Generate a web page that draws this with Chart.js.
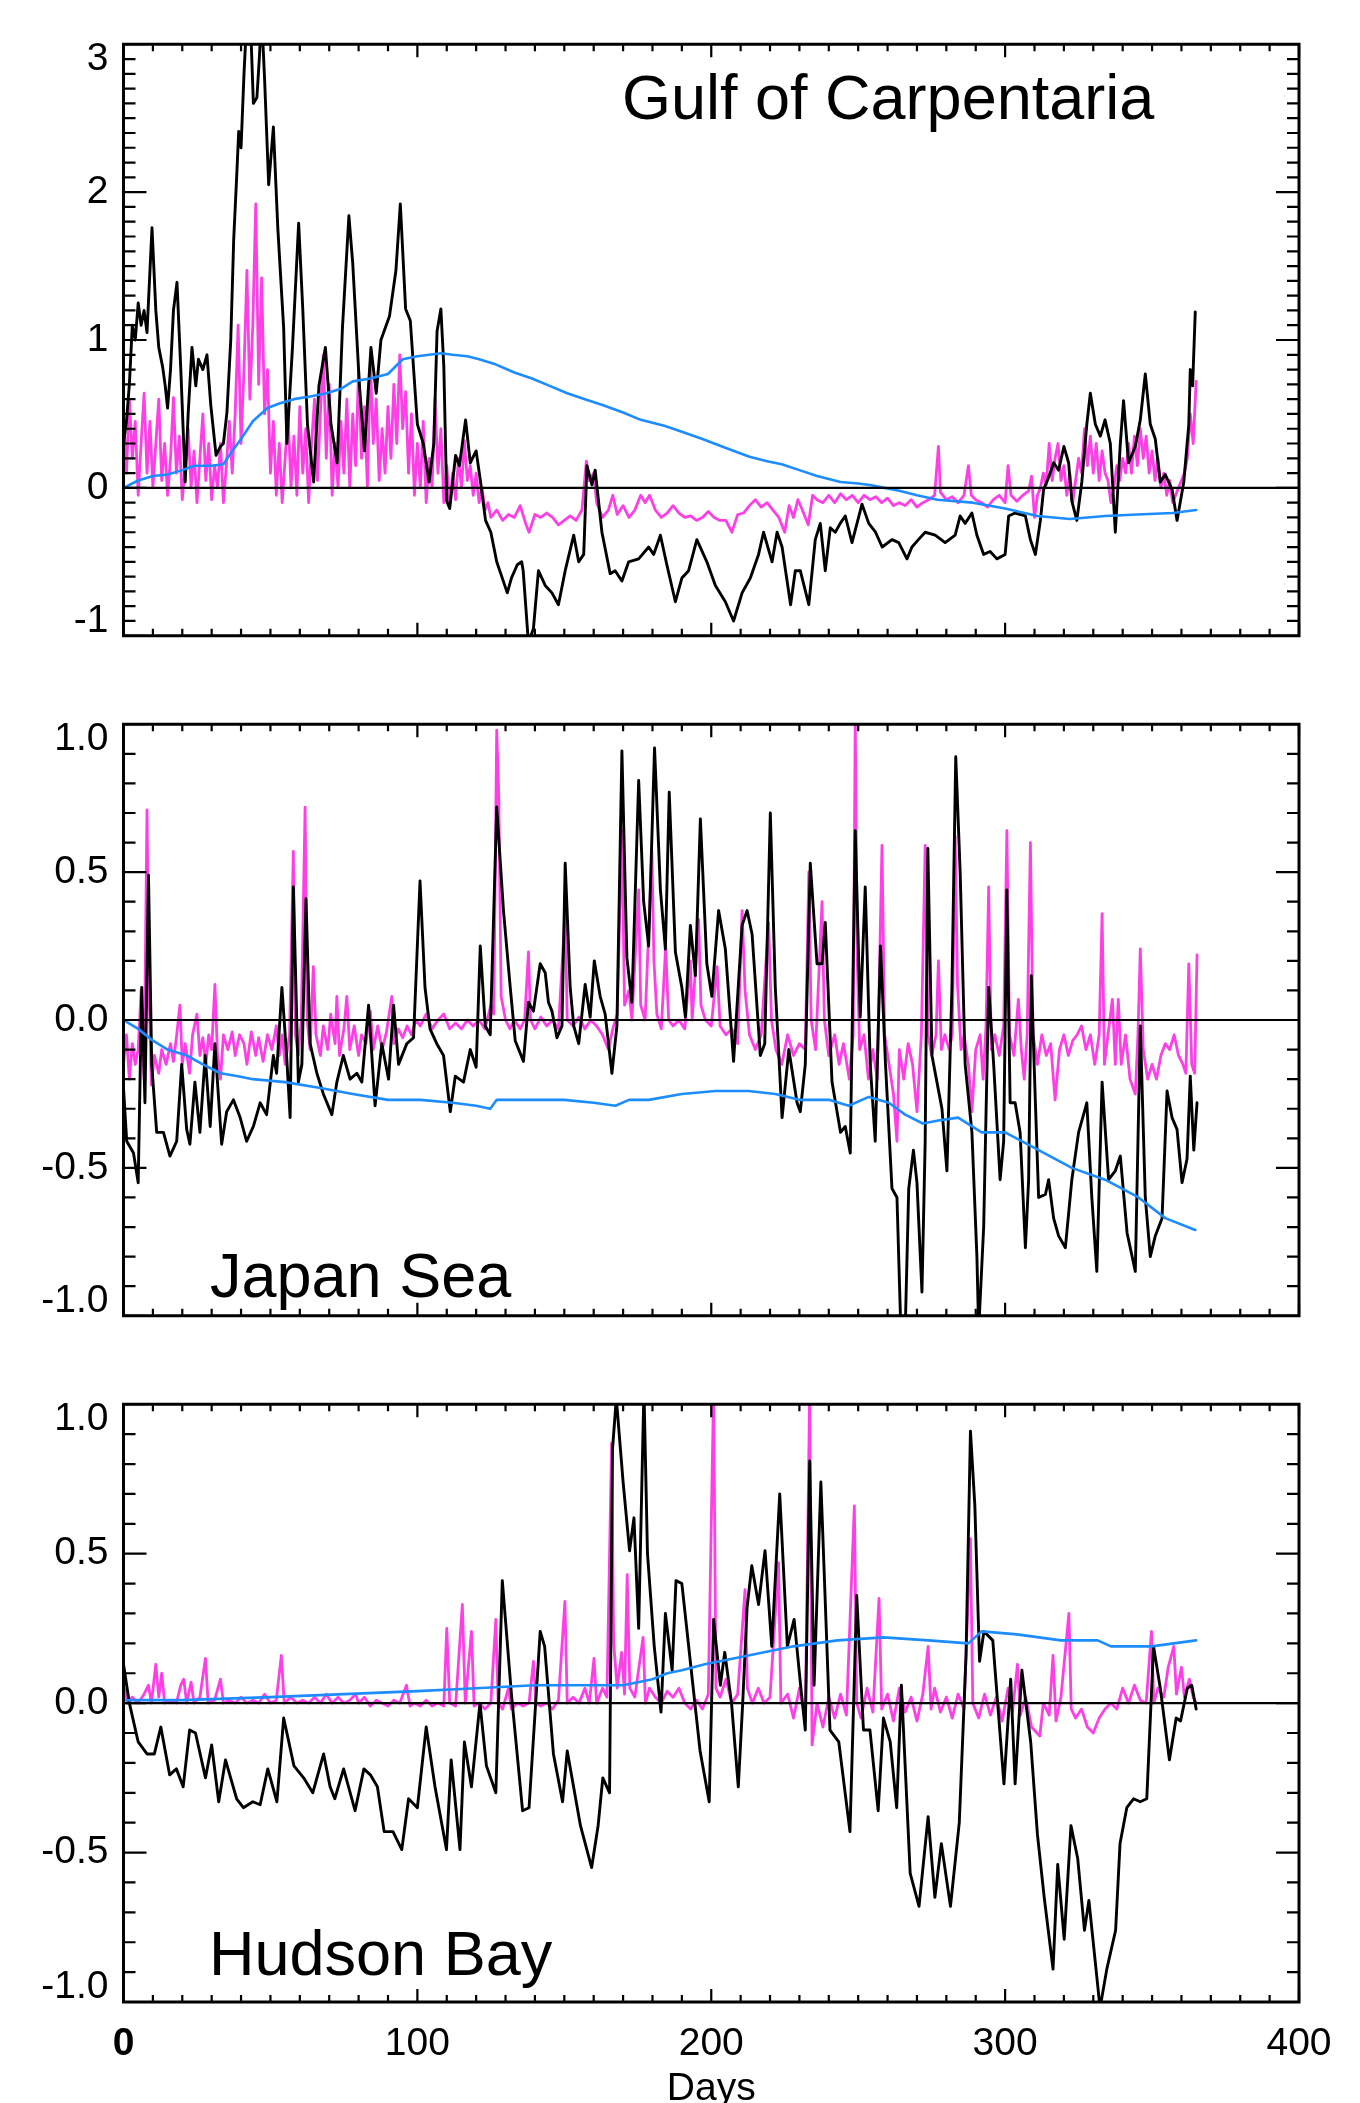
<!DOCTYPE html>
<html>
<head>
<meta charset="utf-8">
<script src="https://cdn.jsdelivr.net/npm/chart.js@4.4.0/dist/chart.umd.min.js"></script>
<style>
html,body{margin:0;padding:0;background:#fff;overflow:hidden;}
.panel{position:absolute;left:0;width:1360px;}
</style>
</head>
<body>
<div class="panel" style="top:0px;height:680px"><canvas id="gulf" width="1360" height="680"></canvas></div>
<div class="panel" style="top:680px;height:680px"><canvas id="japan" width="1360" height="680"></canvas></div>
<div class="panel" style="top:1360px;height:743px"><canvas id="hudson" width="1360" height="743"></canvas></div>
<script>
// DATA  ([day, value])

const dayTicks = [0, 100, 200, 300, 400];
const gulfYTicks = [-1, 0, 1, 2, 3];
const seaYTicks = [-1, -0.5, 0, 0.5, 1];
const panelNames = ["Gulf of Carpentaria", "Japan Sea", "Hudson Bay"];

const gulfBlack = [[0,0.3],[1,0.45],[2,0.7],[3,1.1],[4,1.0],[5,1.25],[6,1.1],[7,1.2],[8,1.05],[9.7,1.76],[11,1.2],[12,0.95],[13.3,0.82],[14.2,0.69],[15,0.54],[16,0.8],[17,1.2],[18.2,1.39],[19.5,0.8],[21,0.04],[22,0.5],[23.3,0.95],[24.6,0.69],[25.5,0.87],[27,0.8],[28.4,0.9],[29.7,0.56],[31.5,0.22],[33,0.28],[34,0.3],[35.2,0.51],[36.5,1.0],[37.5,1.68],[38.5,2.1],[39.2,2.41],[40,2.3],[41,2.8],[42,3.2],[43.3,3.1],[44.2,2.6],[45.4,2.64],[46.2,2.9],[47,3.2],[48,2.77],[49.4,2.05],[51,2.44],[52.5,1.76],[54.5,1.08],[55.6,0.3],[57.5,0.95],[59.6,1.79],[61,1.21],[62.6,0.43],[64.7,0.04],[66.5,0.69],[68.7,0.95],[70.6,0.43],[72.7,0.17],[74.5,1.08],[76.7,1.84],[78,1.52],[80.3,0.69],[82,0.25],[84.2,0.95],[86,0.64],[87.6,1.0],[90.5,1.16],[92.7,1.47],[94.2,1.92],[96,1.21],[97.6,1.13],[100,0.43],[102,0.3],[104,0.04],[105.6,0.3],[106.7,1.06],[108,1.21],[109,0.82],[110,-0.09],[111,-0.14],[113,0.22],[114.3,0.15],[116.4,0.46],[118,0.17],[120,0.25],[121.5,0.04],[123.2,-0.22],[125,-0.3],[127,-0.5],[130.6,-0.71],[132,-0.61],[134,-0.52],[135.5,-0.5],[136,-0.56],[137.8,-1.05],[139.5,-0.95],[141.2,-0.56],[143.5,-0.66],[145.8,-0.71],[148,-0.79],[150.3,-0.56],[153.2,-0.32],[154.9,-0.5],[156.6,-0.45],[157.7,0.15],[159.4,0.02],[160.5,0.12],[162.8,-0.3],[165.6,-0.58],[167.3,-0.56],[169.6,-0.63],[171.9,-0.5],[175.3,-0.48],[178.7,-0.4],[180.4,-0.45],[182.7,-0.32],[185,-0.53],[187.8,-0.77],[190,-0.61],[192.3,-0.56],[195.1,-0.35],[198.5,-0.5],[201.4,-0.66],[204.8,-0.77],[207.6,-0.9],[210.5,-0.71],[213.3,-0.61],[216.1,-0.45],[217.8,-0.3],[220.7,-0.5],[222.4,-0.3],[224.1,-0.4],[227,-0.79],[228.6,-0.56],[230.3,-0.56],[233.2,-0.79],[235.4,-0.35],[237.1,-0.24],[238.8,-0.56],[240.5,-0.27],[242.2,-0.3],[243.9,-0.24],[245.6,-0.19],[247.9,-0.37],[251.3,-0.11],[253.6,-0.24],[255.9,-0.3],[258.2,-0.4],[261.5,-0.35],[263.8,-0.37],[266.6,-0.48],[268.3,-0.4],[270.5,-0.35],[272.8,-0.3],[276.2,-0.32],[279.6,-0.37],[283,-0.32],[284.7,-0.19],[286.4,-0.24],[288.7,-0.17],[290.4,-0.32],[292.7,-0.45],[294.9,-0.43],[297.2,-0.48],[300,-0.45],[301.2,-0.19],[303.4,-0.17],[306.9,-0.19],[308.6,-0.35],[310.3,-0.45],[312,-0.22],[313.1,-0.01],[314.8,0.07],[316.5,0.17],[318.2,0.12],[320,0.28],[321.6,0.17],[322.7,-0.09],[324.4,-0.22],[326.1,0.04],[327.8,0.43],[329,0.64],[330.7,0.43],[332.4,0.35],[334,0.46],[335.8,0.3],[337.5,-0.3],[339.2,0.3],[340.3,0.59],[342,0.17],[344.3,0.28],[346,0.46],[347.7,0.77],[349.4,0.43],[351.1,0.33],[352.8,0.04],[354.5,0.09],[356.8,-0.01],[358.5,-0.22],[360.8,0.04],[362.5,0.43],[363,0.8],[363.8,0.69],[364.7,1.19]];

const gulfMagenta = [[0,0.5],[1,0.1],[2,0.6],[3,0.2],[4,0.45],[5,-0.05],[6,0.3],[7,0.64],[8,0.1],[9,0.45],[10,0.0],[11,0.3],[12,0.6],[13,0.05],[14,0.3],[15,-0.05],[16,0.2],[17,0.61],[18,0.1],[19,0.35],[20,-0.08],[21,0.15],[22,0.4],[23,0.0],[24,0.25],[25,-0.1],[26,0.2],[27,0.5],[28,0.05],[29,0.3],[30,-0.08],[31,0.15],[32,0.0],[33,0.3],[34,-0.1],[35,0.15],[36,0.45],[37,0.1],[38,0.5],[39,1.1],[40,0.3],[41,0.8],[42,1.47],[43,0.6],[44,1.1],[45,1.92],[46,0.7],[47,1.42],[48,0.5],[49,0.8],[50,0.1],[51,0.45],[52,-0.05],[53,0.3],[54,-0.1],[55,0.2],[56,0.5],[57,0.0],[58,0.35],[59,-0.05],[60,0.55],[61,0.1],[62,0.4],[63,-0.1],[64,0.3],[65,0.6],[66,0.05],[67,0.5],[68,0.9],[69,0.2],[70,0.7],[71,-0.05],[72,0.3],[73,0.0],[74,0.45],[75,0.1],[76,0.6],[77,0.0],[78,0.5],[79,0.15],[80,0.8],[81,0.2],[82,0.55],[83,0.0],[84,0.85],[85,0.3],[86,0.6],[87,0.05],[88,0.4],[89,0.1],[90,0.55],[91,0.2],[92,0.7],[93,0.3],[94,0.9],[95,0.4],[96,0.65],[97,0.1],[98,0.5],[99,-0.05],[100,0.3],[101,0.0],[102,0.45],[103,-0.1],[104,0.2],[105,0.0],[106,0.6],[107,0.1],[108,0.4],[109,-0.1],[110,0.15],[111,-0.12],[112,0.1],[113,-0.08],[114,0.2],[115,0.0],[116,0.32],[117,0.05],[118,0.15],[119,-0.05],[120,0.1],[121,-0.1],[122,0.0],[123,-0.15],[124,-0.1],[125,-0.2],[127,-0.15],[129,-0.22],[131,-0.18],[133,-0.2],[135,-0.12],[137,-0.25],[138,-0.3],[140,-0.18],[142,-0.2],[144,-0.17],[146,-0.2],[148,-0.25],[150,-0.22],[152,-0.19],[154,-0.22],[156,-0.15],[157.5,0.18],[158.5,0.05],[160,0.1],[161,-0.1],[163,-0.2],[165,-0.15],[166.5,-0.05],[168,-0.18],[170,-0.12],[172,-0.2],[174,-0.15],[176,-0.05],[177.5,-0.1],[179,-0.05],[181,-0.15],[183,-0.2],[185,-0.17],[187,-0.12],[189,-0.17],[191,-0.2],[193,-0.19],[195,-0.22],[197,-0.2],[199,-0.16],[201,-0.2],[203,-0.22],[205,-0.22],[207,-0.3],[209,-0.18],[211,-0.17],[213,-0.12],[215,-0.08],[217,-0.13],[219,-0.1],[221,-0.15],[223,-0.2],[225,-0.3],[226.5,-0.12],[228,-0.2],[229.5,-0.08],[231,-0.15],[233,-0.25],[234.5,-0.05],[236,-0.08],[238,-0.1],[240,-0.05],[242,-0.1],[244,-0.04],[246,-0.08],[248,-0.05],[250,-0.1],[252,-0.05],[254,-0.08],[256,-0.06],[258,-0.1],[260,-0.07],[262,-0.12],[264,-0.1],[266,-0.12],[268,-0.08],[270,-0.13],[272,-0.1],[274,-0.08],[276,-0.05],[277.3,0.28],[278,-0.03],[280,-0.08],[282,-0.06],[284,-0.1],[286,-0.05],[287.5,0.15],[288.5,-0.05],[290,-0.08],[292,-0.1],[294,-0.13],[296,-0.08],[298,-0.05],[300,-0.1],[301,0.15],[302,-0.05],[304,-0.09],[306,-0.05],[308,-0.02],[309,0.08],[310,-0.2],[311,-0.05],[312,0.0],[313,0.1],[314,0.02],[315,0.3],[316,0.05],[317,0.2],[318,0.3],[319,0.05],[320,0.15],[321,-0.05],[322,0.1],[323,-0.1],[324,0.05],[325,0.2],[326,0.1],[327,0.4],[328,0.15],[329,0.35],[330,0.1],[331,0.3],[332,0.05],[333,0.25],[334,0.1],[335,0.05],[336,-0.1],[337,0.0],[338,0.15],[339,0.05],[340,0.2],[341,0.1],[342,0.3],[343,0.1],[344,0.35],[345,0.15],[346,0.4],[347,0.2],[348,0.35],[349,0.1],[350,0.25],[351,0.05],[352,0.2],[353,0.0],[354,0.1],[355,-0.05],[356,0.05],[357,-0.1],[358,-0.05],[359,0.0],[360,0.05],[361,0.1],[362,0.2],[363,0.5],[364,0.3],[365,0.72]];

const gulfBlue = [[0,0.0],[5,0.05],[10,0.08],[15,0.09],[20,0.12],[24,0.15],[30,0.15],[34,0.16],[37,0.25],[40,0.33],[44,0.45],[49,0.54],[53,0.57],[58,0.6],[64,0.62],[69,0.64],[74,0.67],[78,0.72],[84,0.74],[90,0.77],[95,0.87],[100,0.89],[104,0.9],[108,0.91],[112,0.9],[117,0.89],[121,0.87],[126,0.84],[133,0.78],[139,0.74],[145,0.69],[151,0.64],[157,0.6],[163,0.56],[170,0.51],[176,0.46],[184,0.42],[190,0.38],[197,0.33],[205,0.27],[213,0.21],[219,0.18],[224,0.16],[230,0.12],[236,0.08],[244,0.04],[250,0.03],[254,0.02],[259,0.0],[264,-0.02],[270,-0.05],[277,-0.08],[289,-0.1],[300,-0.14],[311,-0.19],[322,-0.21],[334,-0.19],[345,-0.18],[357,-0.17],[365,-0.15]];

const japanBlack = [[0,-0.23],[1.1,-0.41],[3.4,-0.45],[5,-0.55],[6.2,0.11],[7.3,-0.28],[8.5,0.49],[9.6,-0.15],[11.3,-0.38],[13.6,-0.38],[15.8,-0.46],[18.1,-0.41],[19.8,-0.15],[21.5,-0.37],[22.6,-0.42],[24.3,-0.21],[26,-0.38],[27.8,-0.12],[29.5,-0.36],[31.1,-0.08],[33.4,-0.42],[35.1,-0.31],[37.4,-0.27],[39.7,-0.33],[41.9,-0.41],[44.2,-0.36],[46.5,-0.28],[48.7,-0.32],[51,-0.12],[52.1,-0.18],[53.9,0.11],[55.5,-0.12],[56.7,-0.33],[57.8,0.45],[59.5,-0.21],[60.7,-0.15],[62.1,0.41],[63.5,-0.08],[65.8,-0.18],[68,-0.25],[70.9,-0.32],[72.6,-0.21],[74.8,-0.12],[77.1,-0.2],[79.4,-0.18],[81.1,-0.21],[83.4,0.05],[85.6,-0.29],[87.9,-0.08],[90.2,-0.2],[91.9,0.05],[93.6,-0.15],[96.4,-0.08],[98.7,-0.06],[100.9,0.47],[102.6,0.11],[104.3,-0.03],[106.6,-0.08],[108.9,-0.12],[111.2,-0.31],[112.9,-0.19],[115.7,-0.21],[118,-0.1],[120,-0.16],[121.4,0.25],[123.1,-0.02],[124.8,-0.05],[127,0.72],[129.3,0.37],[131.6,0.11],[133.3,-0.07],[136.1,-0.14],[137.8,0.06],[139.5,0.03],[141.8,0.19],[143.5,0.16],[144.6,0.06],[145.8,0.03],[147.5,-0.06],[149.2,-0.02],[150.3,0.53],[152,0.11],[153.2,-0.02],[154.9,-0.08],[157.1,0.12],[158.8,0.01],[160.2,0.2],[162.2,0.08],[163.9,0.02],[166.2,-0.18],[167.9,-0.02],[169.6,0.91],[171.3,0.21],[173,0.06],[175.3,0.81],[177,0.4],[178.7,0.25],[180.7,0.92],[182.7,0.44],[184.4,0.24],[185.7,0.77],[187.8,0.23],[190,0.11],[191.2,0.01],[192.9,0.32],[194.6,0.15],[196.3,0.68],[198.5,0.19],[200.2,0.08],[202.5,0.37],[204.8,0.24],[207.6,-0.14],[210.5,0.32],[212.2,0.37],[213.9,0.29],[216.7,-0.12],[218.2,-0.08],[220.1,0.7],[221.8,0.11],[224.1,-0.33],[226.4,-0.1],[229.2,-0.28],[230.3,-0.31],[232,-0.15],[233.7,0.53],[236,0.19],[237.7,0.19],[238.8,0.33],[241.1,-0.21],[244,-0.38],[245.6,-0.36],[247.3,-0.45],[249,0.64],[250.7,0.01],[252.4,0.45],[254.1,-0.15],[255.8,-0.41],[257.6,0.25],[259.3,-0.15],[261.5,-0.57],[263.2,-0.6],[264.4,-1.01],[266,-1.05],[267.2,-0.57],[268.8,-0.44],[270,-0.55],[271.7,-0.92],[272.8,-0.41],[273.7,0.58],[275.1,-0.12],[276.8,-0.21],[278.5,-0.3],[280.2,-0.51],[281.9,0.11],[283.2,0.89],[284.7,0.5],[286.4,-0.15],[288.7,-0.38],[290.4,-0.8],[291,-1.05],[292.7,-0.7],[294.4,0.11],[296.1,-0.15],[298.3,-0.54],[299.5,-0.41],[300.6,0.44],[301.7,-0.28],[303.4,-0.28],[305.1,-0.38],[306.9,-0.77],[308,-0.54],[308.9,0.15],[310.3,-0.28],[311.4,-0.6],[313.7,-0.59],[314.8,-0.54],[316.5,-0.67],[318.2,-0.73],[320.5,-0.77],[322.7,-0.54],[325,-0.38],[327.8,-0.28],[329.5,-0.6],[331.2,-0.85],[333,-0.21],[335.2,-0.54],[337.5,-0.51],[339.2,-0.46],[341.5,-0.72],[344.3,-0.85],[346,-0.02],[347.7,-0.6],[349.4,-0.8],[351.1,-0.73],[353.4,-0.67],[355.1,-0.24],[356.8,-0.33],[358.5,-0.37],[360.2,-0.55],[361.9,-0.47],[363,-0.19],[364.2,-0.44],[365.3,-0.28]];

const japanMagenta = [[0,-0.15],[1,-0.05],[2,-0.2],[3,-0.08],[4,-0.15],[5,-0.1],[6,0.1],[7,-0.2],[8,0.71],[8.7,0.1],[9.5,-0.22],[10.5,-0.12],[12,-0.18],[13,-0.1],[14.5,-0.15],[16,-0.08],[17,-0.14],[18,-0.06],[19.2,0.05],[20,-0.15],[21,-0.08],[22.5,-0.18],[23.5,-0.05],[25,0.02],[26,-0.12],[27,-0.06],[28,-0.15],[29,-0.05],[30,-0.1],[31.1,0.12],[32,-0.12],[33,-0.2],[34,-0.05],[35.5,-0.1],[37,-0.04],[38,-0.12],[39.5,-0.05],[41,-0.08],[42,-0.15],[43.5,-0.04],[45,-0.12],[46,-0.06],[47.5,-0.14],[49,-0.05],[50.5,-0.1],[52,-0.02],[53,-0.12],[54,-0.05],[55,-0.15],[56.5,-0.05],[57.8,0.57],[58.5,-0.05],[59.5,-0.12],[60.5,0.0],[61.8,0.72],[62.5,0.0],[63.5,-0.1],[64.6,0.18],[65.5,-0.05],[67,-0.12],[68,-0.02],[69.5,-0.1],[70.5,0.02],[72,-0.08],[72.6,0.08],[73.5,-0.12],[75,-0.03],[76,0.08],[77,-0.1],[78.5,-0.02],[80,-0.12],[81,-0.05],[82.5,-0.08],[84,0.03],[85,-0.1],[86.5,-0.02],[88,-0.1],[89.5,-0.04],[91.3,0.08],[92,-0.08],[93.5,-0.03],[95,-0.06],[96.5,-0.02],[98,-0.05],[99.5,0.0],[101,-0.02],[103,0.02],[105,-0.03],[107,0.0],[109,0.02],[111,-0.03],[113,-0.01],[115,-0.03],[117,0.0],[119,-0.02],[121,0.0],[123,-0.03],[125,0.05],[126,0.02],[127,0.98],[127.7,0.76],[128.5,0.08],[130,0.0],[131.5,-0.03],[133,0.0],[135,-0.03],[136.5,0.0],[137.8,0.23],[138.5,0.0],[140,-0.03],[142,0.01],[144,-0.02],[146,0.0],[148,-0.03],[150.3,0.37],[151,0.0],[153,-0.02],[155,0.01],[157,-0.03],[159,0.0],[161,-0.02],[163,-0.05],[165,-0.1],[166.5,-0.03],[168,0.02],[169.6,0.64],[170.5,0.05],[172,0.1],[173,0.0],[175.3,0.44],[176,0.05],[177.5,0.0],[179.8,0.57],[180.5,0.2],[181.5,0.02],[183,-0.03],[184.5,0.25],[185.5,0.0],[187,-0.02],[189,0.0],[191,-0.03],[192.9,0.2],[193.5,0.0],[195.7,0.34],[196.5,0.05],[198,0.0],[200,-0.02],[202,0.18],[203,-0.02],[205,-0.05],[207,-0.03],[209,-0.08],[210.5,0.37],[211.5,0.1],[213,-0.05],[215,-0.1],[217,-0.05],[219.5,0.33],[220.5,0.0],[222,-0.1],[224,-0.15],[226,-0.05],[228,-0.12],[230,-0.08],[232,-0.1],[233.2,0.5],[234,0.0],[235.5,-0.1],[237.7,0.4],[238.5,0.0],[240,-0.12],[242,-0.05],[243.5,-0.15],[245,-0.08],[247,-0.2],[248.3,-0.05],[249,1.02],[249.7,0.2],[250.5,-0.1],[252,-0.05],[253.5,-0.2],[255,-0.1],[256.5,-0.2],[258.1,0.59],[259,-0.05],[260.5,-0.15],[262,-0.25],[263.2,-0.41],[264,-0.1],[265.5,-0.2],[267,-0.08],[268.5,-0.15],[270,-0.31],[271.5,-0.05],[272.8,0.59],[273.8,-0.05],[275,-0.12],[276.5,-0.05],[277.3,0.2],[278.3,-0.1],[279.5,-0.05],[281,-0.1],[282,-0.05],[283,0.62],[283.8,0.12],[285,-0.1],[286,-0.05],[287.5,-0.15],[288.7,-0.31],[290,-0.1],[291.5,-0.05],[292.5,-0.2],[293.5,-0.02],[294.4,0.45],[295.3,-0.1],[296.5,-0.05],[298,-0.12],[299.5,-0.02],[300.6,0.64],[301.5,-0.05],[303,-0.12],[304.5,0.07],[305.5,-0.1],[306.5,-0.2],[307.5,-0.05],[308.6,0.6],[309.5,-0.05],[311,-0.15],[312.5,-0.05],[314,-0.12],[315.5,-0.08],[317,-0.27],[318.5,-0.1],[320,-0.05],[321.5,-0.12],[323,-0.07],[324.5,-0.05],[326,-0.02],[327.5,-0.1],[329,-0.05],[330.5,-0.15],[332,-0.05],[333,0.36],[333.8,-0.15],[335,-0.05],[336.5,0.07],[337.5,-0.15],[338.5,0.07],[339.5,-0.15],[341,-0.05],[342.5,-0.2],[344.3,-0.25],[345.2,-0.05],[346,0.24],[347,-0.1],[348.5,-0.2],[350,-0.15],[351.5,-0.2],[353,-0.12],[354.5,-0.08],[356,-0.1],[357.5,-0.05],[359,-0.12],[360.5,-0.15],[361.5,-0.18],[362.5,0.19],[363.5,-0.15],[364.5,-0.18],[365.3,0.22]];

const japanBlue = [[0,0.0],[5,-0.03],[10,-0.07],[15,-0.1],[21.5,-0.12],[27,-0.15],[33,-0.18],[39,-0.19],[44,-0.2],[55,-0.21],[67,-0.23],[78,-0.25],[90,-0.27],[101,-0.27],[112,-0.28],[120,-0.29],[124.8,-0.3],[127,-0.27],[135,-0.27],[150,-0.27],[160,-0.28],[167.4,-0.29],[172,-0.27],[178.7,-0.27],[190,-0.25],[201.4,-0.24],[212.7,-0.24],[221.8,-0.25],[230,-0.27],[240,-0.27],[246.8,-0.29],[253.6,-0.26],[260.4,-0.28],[266,-0.32],[272,-0.35],[277.3,-0.34],[284,-0.33],[292,-0.38],[300,-0.38],[311.4,-0.44],[322.7,-0.5],[334,-0.54],[345.4,-0.6],[354.5,-0.67],[364.7,-0.71]];

const hudsonBlack = [[0,0.13],[2,0.0],[5,-0.13],[8,-0.17],[10.5,-0.17],[12.7,-0.08],[15.7,-0.24],[18,-0.22],[20.3,-0.28],[22.5,-0.09],[24.5,-0.1],[27.9,-0.25],[30,-0.14],[32.4,-0.33],[34.7,-0.19],[38.5,-0.32],[40.8,-0.35],[44,-0.33],[46.5,-0.34],[49.1,-0.22],[52.2,-0.33],[54.5,-0.05],[58,-0.21],[61.3,-0.25],[64.4,-0.3],[68.1,-0.17],[70.3,-0.28],[71.9,-0.32],[74.9,-0.22],[78.8,-0.36],[81.8,-0.22],[84,-0.24],[86.4,-0.28],[88.7,-0.43],[91.7,-0.43],[94.7,-0.49],[97,-0.32],[100,-0.35],[103,-0.08],[106,-0.28],[109.9,-0.49],[111.5,-0.19],[114.5,-0.49],[116,-0.13],[118.4,-0.28],[121.3,0.0],[123.5,-0.21],[126.7,-0.3],[128.9,0.41],[132,0.03],[135.8,-0.36],[138,-0.35],[141.8,0.24],[143.3,0.19],[146.3,-0.17],[149.4,-0.33],[151,-0.16],[155.5,-0.41],[159.3,-0.55],[161.5,-0.41],[163.1,-0.25],[165.4,-0.3],[166.4,0.85],[167.7,1.02],[170,0.74],[172.2,0.51],[173.7,0.62],[175.3,0.25],[177.1,1.05],[178.3,0.5],[180.6,0.19],[182.9,-0.03],[184.4,0.3],[186.7,0.11],[188,0.41],[190,0.4],[193.2,0.11],[196.2,-0.16],[199.3,-0.33],[200.8,0.28],[203.1,0.06],[204.6,0.17],[206.9,0.0],[209.2,-0.28],[210.7,0.0],[212.2,0.32],[213.8,0.46],[216.1,0.33],[218.3,0.51],[220.6,0.19],[223.3,0.7],[225.9,0.19],[228.2,0.28],[230.5,0.05],[232,-0.09],[233.5,0.81],[235,0.06],[237.3,0.74],[240.4,-0.09],[243.4,-0.13],[247.2,-0.43],[249.5,0.36],[251.8,-0.09],[254,-0.09],[256.8,-0.36],[258.6,-0.05],[260.9,-0.13],[263.1,-0.35],[264.7,0.06],[267.7,-0.57],[270.7,-0.68],[273.8,-0.38],[276.1,-0.65],[278.3,-0.47],[281.4,-0.68],[284.4,-0.4],[286.7,0.16],[288.2,0.91],[289.7,0.66],[291.3,0.14],[292.8,0.24],[295.8,0.21],[299.6,-0.27],[301.9,0.08],[303.4,-0.27],[305.7,0.11],[308.7,-0.13],[311,-0.44],[313.3,-0.65],[316.3,-0.89],[317.9,-0.54],[320.1,-0.79],[322.4,-0.41],[324.7,-0.52],[327,-0.76],[328.5,-0.66],[332.3,-1.02],[334.6,-0.89],[337.6,-0.76],[339.1,-0.47],[341.4,-0.35],[343.7,-0.32],[346,-0.33],[348.2,-0.32],[350.5,0.19],[352.8,0.05],[355.9,-0.19],[358.2,-0.05],[359.7,-0.06],[362,0.05],[363.5,0.06],[365,-0.02]];

const hudsonMagenta = [[0,0.06],[1.5,0.0],[3,0.02],[5,0.0],[7,0.03],[8.5,0.06],[9.5,0.0],[11,0.13],[12,0.02],[13,0.1],[14,0.0],[16,0.01],[18,0.0],[19.5,0.06],[20.5,0.08],[21.5,0.0],[23,0.07],[24,0.0],[26,0.02],[27.9,0.15],[28.8,0.0],[31,0.01],[33,0.08],[34,0.0],[36,0.01],[38,0.0],[40,0.02],[42,0.0],[44,0.01],[46,0.0],[48,0.03],[50,0.0],[52,0.01],[53.7,0.16],[54.7,0.0],[57,0.02],[59,0.0],[61,0.01],[63,0.0],[65,0.02],[67,0.0],[69,0.03],[71,0.0],[73,0.02],[75,0.0],[77,0.01],[79,0.03],[80,0.0],[82,0.02],[84,-0.01],[86,0.01],[88,0.0],[90,-0.01],[92,0.01],[94,0.0],[96.3,0.06],[97.5,-0.01],[99,0.0],[101,-0.01],[103,0.01],[105,-0.01],[107,0.0],[109,-0.01],[110,0.25],[111,0.0],[113,-0.01],[115.3,0.33],[116.3,0.0],[118.4,0.24],[119.3,-0.01],[121,0.0],[123,-0.02],[125,0.0],[126.7,0.28],[127.5,0.0],[129,-0.02],[131,0.05],[132,-0.02],[134,0.0],[136,-0.01],[138,0.0],[139.5,0.14],[140.3,0.0],[142,-0.01],[144,0.0],[146,-0.02],[148,0.01],[150.2,0.34],[151,0.0],[153,0.02],[155,0.0],[157,0.05],[158.5,0.0],[160.1,0.15],[161,0.0],[163,0.05],[164.5,0.02],[166.1,0.87],[166.8,0.2],[168,0.05],[169.5,0.17],[170.5,0.03],[171.4,0.43],[172.3,0.05],[174,0.02],[176.8,0.22],[177.6,0.0],[179,0.05],[181,0.02],[183,0.0],[185,0.04],[187,0.02],[189,0.05],[191,0.0],[193,-0.02],[195,0.01],[197,-0.02],[199,0.03],[200.8,1.05],[201.6,0.05],[203,0.02],[205,0.08],[207,0.0],[209,0.03],[211.5,0.38],[212.3,0.05],[214,0.0],[216,0.05],[218,0.0],[220,0.02],[222.9,0.47],[223.7,0.0],[226,0.03],[228,-0.05],[230,0.05],[232,-0.05],[233.5,1.05],[234.3,-0.14],[236,0.0],[238,-0.08],[240,0.02],[242,-0.05],[244,0.03],[246,-0.04],[248.7,0.66],[249.5,0.0],[251,-0.05],[253,0.05],[255,-0.03],[257.1,0.35],[258,-0.02],[260,0.03],[262,-0.06],[264,0.05],[266,-0.03],[268,0.02],[270,-0.06],[272,0.03],[273.8,0.19],[274.8,-0.02],[276,0.05],[278,-0.03],[280,0.02],[282,-0.05],[284,0.03],[286,-0.02],[288.2,0.55],[289,0.0],[291,-0.05],[293,0.03],[295,-0.04],[297,0.02],[299,-0.06],[301,0.05],[302.5,-0.03],[304.2,0.13],[305.2,-0.04],[307,0.02],[309,-0.08],[311.8,-0.11],[313,0.0],[315,-0.04],[316.3,0.16],[317.3,-0.06],[319,0.02],[321.7,0.3],[322.5,-0.02],[324,-0.05],[326,-0.02],[328,-0.08],[330,-0.1],[332,-0.05],[334,-0.02],[336,0.0],[338,-0.02],[340,0.05],[342,0.0],[344,0.06],[346,0.01],[348,0.0],[349.8,0.24],[350.6,0.0],[352,0.05],[354,0.02],[355.5,0.12],[357.4,0.19],[358.3,0.03],[360,0.12],[361,0.02],[362.7,0.08],[364,0.02],[365,0.0]];

const hudsonBlue = [[0,0.01],[20,0.01],[50,0.02],[75,0.03],[100,0.04],[120,0.05],[140,0.06],[160,0.06],[170,0.06],[180,0.08],[185,0.1],[190,0.11],[197.8,0.13],[213,0.16],[228,0.19],[243,0.21],[258.6,0.22],[273.8,0.21],[287.5,0.2],[292,0.24],[304,0.23],[319,0.21],[331.5,0.21],[336,0.19],[349.8,0.19],[365,0.21]];


// STYLE

const FONT = '"Liberation Sans", Arial, Helvetica, sans-serif';
const BLACK = "#000000";
const MAGENTA = "#ff3fe6";
const BLUE = "#1c8cff";

Chart.defaults.font.family = FONT;
Chart.defaults.color = "#000";

// frame, zero line and inward IDL-style ticks on all four sides
const idlAxes = {
id: "idlAxes",
afterDatasetsDraw(chart, args, opts) {
const {ctx, chartArea: a, scales: {x, y}} = chart;
ctx.save();
ctx.strokeStyle = "#000";
ctx.lineWidth = 2.2;
const y0 = y.getPixelForValue(0);
ctx.beginPath();
ctx.moveTo(a.left, y0);
ctx.lineTo(a.right, y0);
ctx.stroke();

ctx.lineWidth = 2.2;
ctx.beginPath();
for (let i = 0; i <= 40; i++) {
const px = x.getPixelForValue(i * 10);
const len = i % 10 === 0 ? 13 : 7;
ctx.moveTo(px, a.bottom); ctx.lineTo(px, a.bottom - len);
ctx.moveTo(px, a.top); ctx.lineTo(px, a.top + len);
}
for (let k = Math.round(y.min * 10); k <= Math.round(y.max * 10); k++) {
const py = y.getPixelForValue(k / 10);
const len = k % opts.yMajorEvery === 0 ? 23 : 12;
ctx.moveTo(a.left, py); ctx.lineTo(a.left + len, py);
ctx.moveTo(a.right, py); ctx.lineTo(a.right - len, py);
}
ctx.stroke();

ctx.lineWidth = 3;
ctx.strokeRect(a.left, a.top, a.right - a.left, a.bottom - a.top);
ctx.restore();
}
};

// region name written inside the frame
const panelLabel = {
id: "panelLabel",
afterDraw(chart, args, opts) {
const {ctx, chartArea: a} = chart;
ctx.save();
ctx.font = "63px " + FONT;
ctx.fillStyle = "#000";
ctx.textBaseline = "alphabetic";
ctx.fillText(opts.text, a.left + opts.dx, a.top + opts.dy);
ctx.restore();
}
};

function yLabel(decimals) {
return function (v, i, ticks) {
const s = decimals ? Number(v).toFixed(decimals) : String(v);
if (i === ticks.length - 1) return ["", s];
if (i === 0) return [s, ""];
return s;
};
}

function makePanel(id, black, magenta, blue, yMin, yMax, yTicks, majorEvery, decimals, label, bottomAxis) {
const canvas = document.getElementById(id);
const h = canvas.height;
return new Chart(canvas, {
type: "line",
data: {
datasets: [
{label: "blue", data: blue, borderColor: BLUE, borderWidth: 2.6, order: 0},
{label: "black", data: black, borderColor: BLACK, borderWidth: 2.9, order: 1},
{label: "magenta", data: magenta, borderColor: MAGENTA, borderWidth: 2.8, order: 2}
]
},
options: {
responsive: false,
animation: false,
events: [],
parsing: true,
elements: {point: {radius: 0}, line: {tension: 0, borderJoinStyle: "round", borderCapStyle: "round"}},
layout: {padding: {top: 40, right: 61, left: 0, bottom: bottomAxis ? 0 : h - 641}},
plugins: {
legend: {display: false},
tooltip: {enabled: false},
idlAxes: {yMajorEvery: majorEvery},
panelLabel: label
},
scales: {
x: {
type: "linear",
min: 0,
max: 400,
display: bottomAxis,
grid: {display: false, drawTicks: false},
border: {display: false},
afterBuildTicks: s => { s.ticks = dayTicks.map(v => ({value: v})); },
afterFit: s => { if (bottomAxis) s.height = h - 642; },
ticks: {
padding: 19,
maxRotation: 0,
autoSkip: false,
font: c => ({size: 39, lineHeight: 1.2, weight: c.tick && c.tick.value === 0 ? "bold" : "normal"})
},
title: {
display: bottomAxis,
text: "Days",
font: {size: 39, lineHeight: 0.72},
padding: 0
}
},
y: {
type: "linear",
min: yMin,
max: yMax,
grid: {display: false, drawTicks: false},
border: {display: false},
afterBuildTicks: s => { s.ticks = yTicks.map(v => ({value: v})); },
afterFit: s => { s.width = 123.5; },
ticks: {
padding: 15,
autoSkip: false,
font: {size: 39, lineHeight: 0.75},
callback: yLabel(decimals)
}
}
}
},
plugins: [idlAxes, panelLabel]
});
}

makePanel("gulf", gulfBlack, gulfMagenta, gulfBlue, -1, 3, gulfYTicks, 10, 0,
{text: panelNames[0], dx: 498.5, dy: 75}, false);
makePanel("japan", japanBlack, japanMagenta, japanBlue, -1, 1, seaYTicks, 5, 1,
{text: panelNames[1], dx: 86.5, dy: 573}, false);
makePanel("hudson", hudsonBlack, hudsonMagenta, hudsonBlue, -1, 1, seaYTicks, 5, 1,
{text: panelNames[2], dx: 85.5, dy: 571}, true);
</script>
</body>
</html>
